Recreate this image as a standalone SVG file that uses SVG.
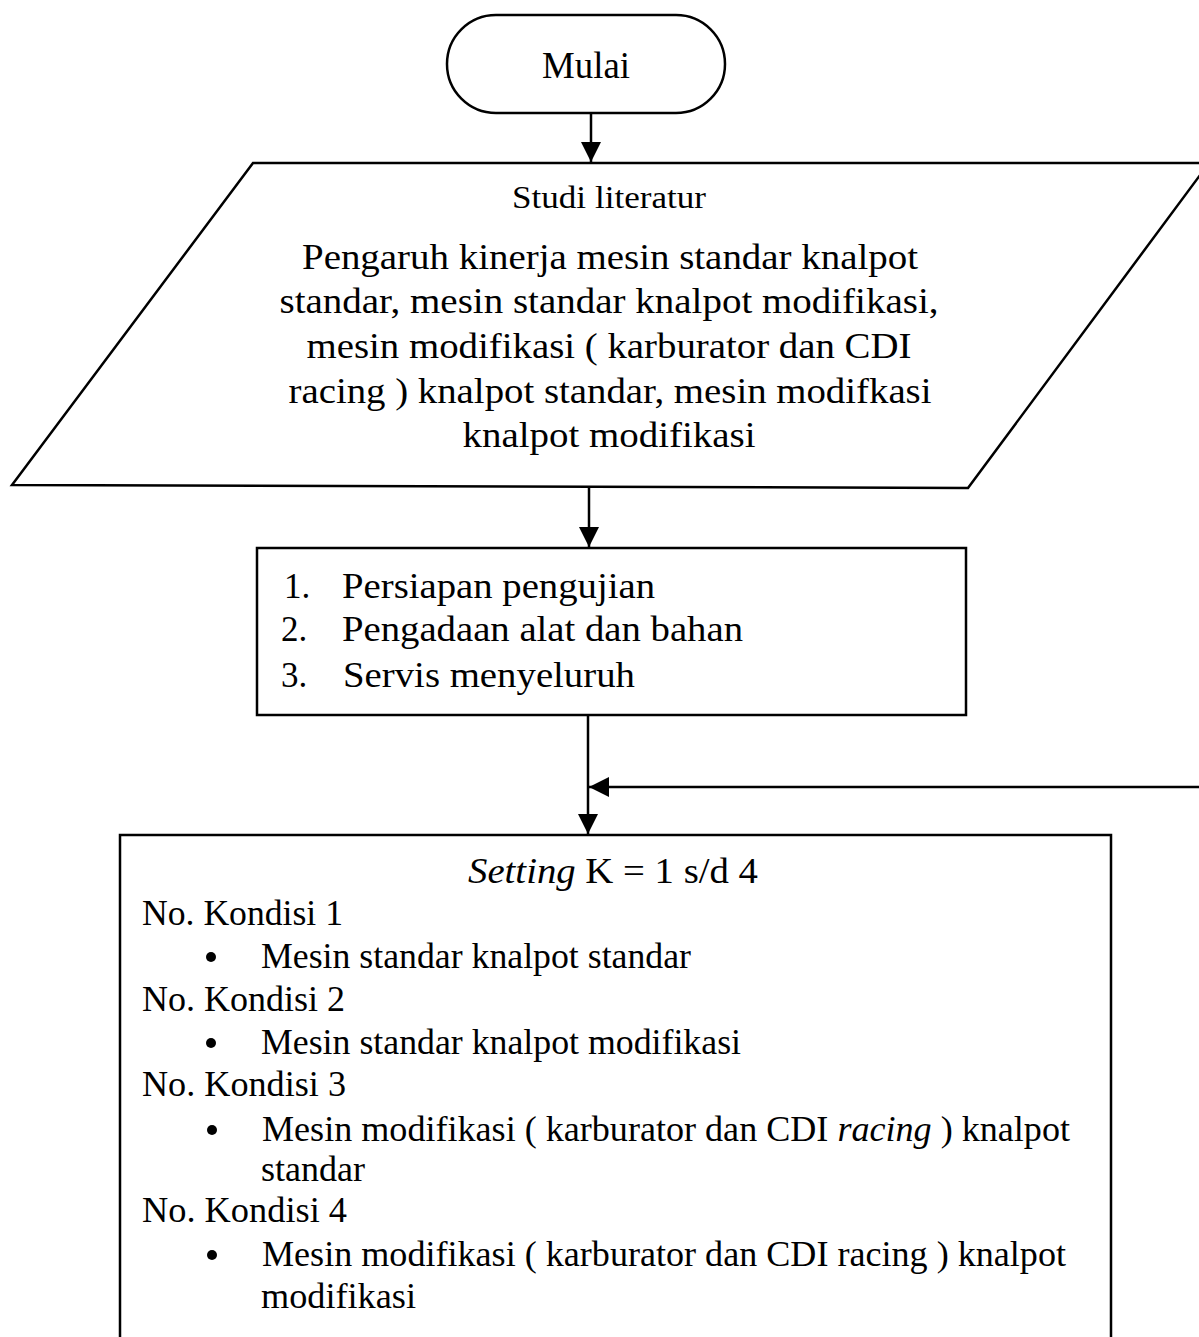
<svg xmlns="http://www.w3.org/2000/svg" width="1199" height="1337" viewBox="0 0 1199 1337">
<style>
.s{fill:#fff;stroke:#000;stroke-width:2.5}
.t{font-family:"Liberation Serif","Times New Roman",serif;fill:#000}
.c{stroke:#000;stroke-width:2.5;fill:none}
</style>
<defs>
<marker id="ah" viewBox="0 0 10 10" refX="10" refY="5" markerWidth="8" markerHeight="8" markerUnits="strokeWidth" orient="auto"><path d="M0,0L10,5L0,10z" fill="#000"/></marker>
</defs>
<rect width="1199" height="1337" fill="#fff"/>
<g id="start">
<rect class="s" x="447" y="15" width="278" height="98" rx="49" ry="49"/>
<text class="t" x="586" y="78" font-size="37" text-anchor="middle" textLength="88" lengthAdjust="spacingAndGlyphs">Mulai</text>
</g>
<g id="studi">
<polygon class="s" points="253,163 1209,163 968,488 12,485"/>
<text class="t" x="609" y="208" font-size="31" text-anchor="middle" textLength="194" lengthAdjust="spacingAndGlyphs">Studi literatur</text>
<g font-size="35" text-anchor="middle" class="t">
<text x="610" y="269" textLength="616" lengthAdjust="spacingAndGlyphs">Pengaruh kinerja mesin standar knalpot</text>
<text x="609" y="313" textLength="659" lengthAdjust="spacingAndGlyphs">standar, mesin standar knalpot modifikasi,</text>
<text x="609" y="358" textLength="605" lengthAdjust="spacingAndGlyphs">mesin modifikasi ( karburator dan CDI</text>
<text x="610" y="403" textLength="643" lengthAdjust="spacingAndGlyphs">racing ) knalpot standar, mesin modifkasi</text>
<text x="609" y="447" textLength="293" lengthAdjust="spacingAndGlyphs">knalpot modifikasi</text>
</g>
</g>
<g id="persiapan">
<rect class="s" x="257" y="548" width="709" height="167"/>
<g class="t" font-size="35">
<text x="284" y="598">1.</text><text x="342" y="598" textLength="313" lengthAdjust="spacingAndGlyphs">Persiapan pengujian</text>
<text x="281" y="641">2.</text><text x="342" y="641" textLength="401" lengthAdjust="spacingAndGlyphs">Pengadaan alat dan bahan</text>
<text x="281" y="687">3.</text><text x="343" y="687" textLength="292" lengthAdjust="spacingAndGlyphs">Servis menyeluruh</text>
</g>
</g>
<g id="setting">
<path class="s" d="M120,1337 V835 H1111 V1337"/>
<g class="t" font-size="35">
<text x="613" y="883" text-anchor="middle" textLength="290" lengthAdjust="spacingAndGlyphs"><tspan font-style="italic">Setting</tspan> K = 1 s/d 4</text>
<text x="142" y="925" textLength="201" lengthAdjust="spacingAndGlyphs">No. Kondisi 1</text>
<text x="261" y="968" textLength="430" lengthAdjust="spacingAndGlyphs">Mesin standar knalpot standar</text>
<text x="142" y="1011" textLength="203" lengthAdjust="spacingAndGlyphs">No. Kondisi 2</text>
<text x="261" y="1054" textLength="480" lengthAdjust="spacingAndGlyphs">Mesin standar knalpot modifikasi</text>
<text x="142" y="1096" textLength="204" lengthAdjust="spacingAndGlyphs">No. Kondisi 3</text>
<text x="262" y="1141" textLength="808" lengthAdjust="spacingAndGlyphs">Mesin modifikasi ( karburator dan CDI <tspan font-style="italic">racing</tspan> ) knalpot</text>
<text x="261" y="1181" textLength="104" lengthAdjust="spacingAndGlyphs">standar</text>
<text x="142" y="1222" textLength="205" lengthAdjust="spacingAndGlyphs">No. Kondisi 4</text>
<text x="262" y="1266" textLength="804" lengthAdjust="spacingAndGlyphs">Mesin modifikasi ( karburator dan CDI racing ) knalpot</text>
<text x="261" y="1308" textLength="155" lengthAdjust="spacingAndGlyphs">modifikasi</text>
</g>
<g fill="#000">
<circle cx="211" cy="957" r="5"/>
<circle cx="211" cy="1043" r="5"/>
<circle cx="212" cy="1130" r="5"/>
<circle cx="212" cy="1255" r="5"/>
</g>
</g>
<g id="connectors">
<line class="c" x1="591" y1="113" x2="591" y2="162" marker-end="url(#ah)"/>
<line class="c" x1="589" y1="488" x2="589" y2="547" marker-end="url(#ah)"/>
<line class="c" x1="588" y1="715" x2="588" y2="834" marker-end="url(#ah)"/>
<line class="c" x1="1199" y1="787" x2="589" y2="787" marker-end="url(#ah)"/>
</g>
</svg>
